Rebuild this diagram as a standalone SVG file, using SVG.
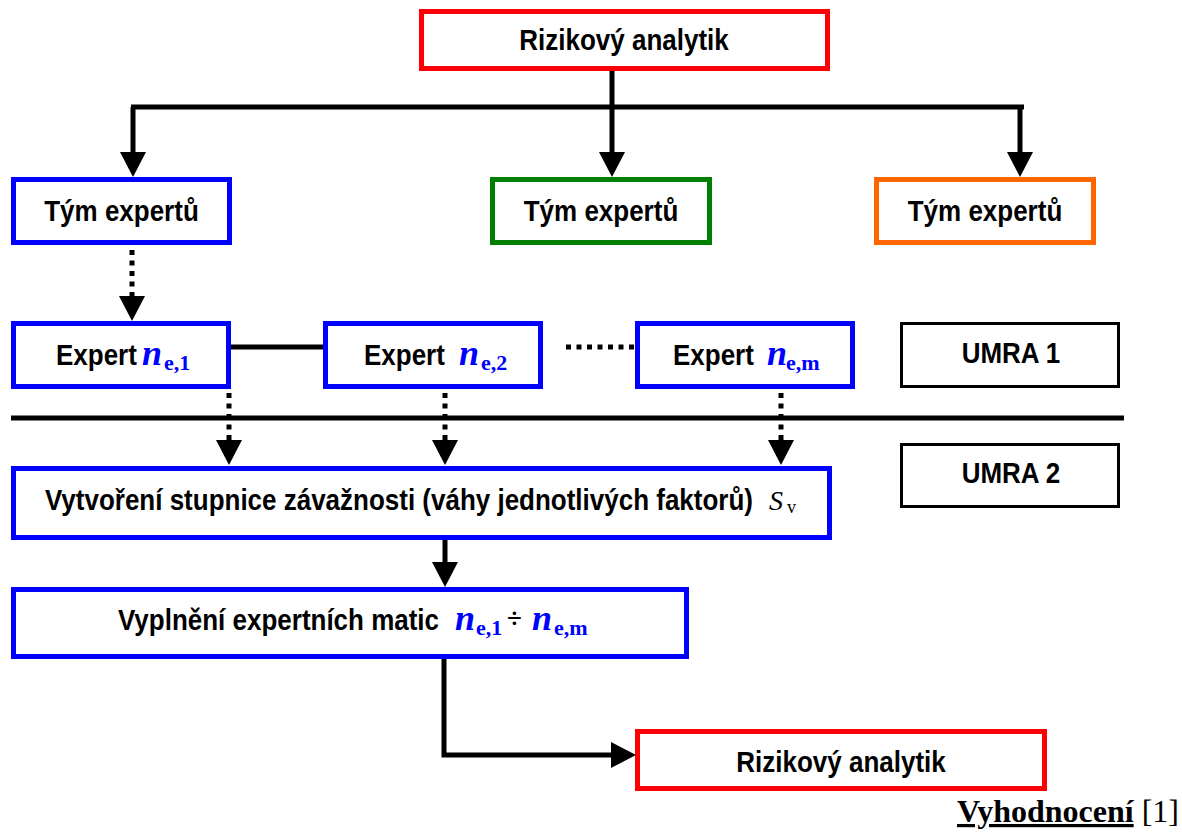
<svg xmlns="http://www.w3.org/2000/svg" width="1182" height="834" viewBox="0 0 1182 834">
<defs>
<marker id="ah" markerUnits="userSpaceOnUse" markerWidth="26" markerHeight="26" refX="0" refY="13" orient="auto">
<path d="M0,0 L25,13 L0,26 Z" fill="#000"/>
</marker>
<style>
.box{fill:#fff;stroke-width:5}
.red{stroke:#ff0000}.blue{stroke:#0000ff}.green{stroke:#008000}.orange{stroke:#ff6600}
.blk{fill:#fff;stroke:#000;stroke-width:3}
.t{font-family:"Liberation Sans",Arial,sans-serif;font-weight:bold;font-size:26px;fill:#000}
.n{font-family:"Liberation Serif","Times New Roman",serif;font-weight:bold;font-style:italic;font-size:36px;fill:#0000ff}
.sub{font-family:"Liberation Serif","Times New Roman",serif;font-weight:bold;font-size:22px;fill:#0000ff}
.ln{fill:none;stroke:#000;stroke-width:5}
.dot{fill:none;stroke:#000;stroke-width:5;stroke-dasharray:5 5.5}
</style>
</defs>
<g id="connectors">
<path class="ln" d="M612,71 V107"/>
<path class="ln" d="M131,107 H1024" stroke-width="6"/>
<path class="ln" d="M133,107 V152" stroke-width="4" marker-end="url(#ah)"/>
<path class="ln" d="M612,107 V152" stroke-width="4" marker-end="url(#ah)"/>
<path class="ln" d="M1020,107 V152" stroke-width="4" marker-end="url(#ah)"/>
<path class="dot" d="M132,250 V296" marker-end="url(#ah)"/>
<path class="ln" d="M231,347 H323"/>
<path class="dot" d="M566,347 H635"/>
<path class="dot" d="M229,393 V440" marker-end="url(#ah)"/>
<path class="dot" d="M445,393 V440" marker-end="url(#ah)"/>
<path class="dot" d="M781,393 V440" marker-end="url(#ah)"/>
<path class="ln" d="M11,418 H1124" stroke-width="4"/>
<path class="ln" d="M445,540 V562" marker-end="url(#ah)"/>
<path class="ln" d="M444,659 V755 H611" marker-end="url(#ah)"/>
</g>
<g id="analyst-top">
<rect class="box red" x="421.5" y="11.5" width="406" height="57"/>
<text class="t" text-anchor="middle" transform="translate(624,50) scale(1,1.15)">Rizikový analytik</text>
</g>
<g id="team-1">
<rect class="box blue" x="13.5" y="179.5" width="216" height="63"/>
<text class="t" text-anchor="middle" font-size="26.4" transform="translate(121.5,221) scale(1,1.15)">Tým expertů</text>
</g>
<g id="team-2">
<rect class="box green" x="492.5" y="179.5" width="217" height="63"/>
<text class="t" text-anchor="middle" font-size="26.4" transform="translate(601,221) scale(1,1.15)">Tým expertů</text>
</g>
<g id="team-3">
<rect class="box orange" x="876.5" y="179.5" width="217" height="63"/>
<text class="t" text-anchor="middle" font-size="26.4" transform="translate(985,221) scale(1,1.15)">Tým expertů</text>
</g>
<g id="expert-1">
<rect class="box blue" x="13.5" y="323.5" width="215" height="63"/>
<text class="t" font-size="25.4" transform="translate(56,365) scale(1,1.15)">Expert</text>
<text class="n" x="142" y="365">n</text>
<text class="sub" x="164" y="370">e,1</text>
</g>
<g id="expert-2">
<rect class="box blue" x="325.5" y="323.5" width="215" height="63"/>
<text class="t" font-size="25.4" transform="translate(364,365) scale(1,1.15)">Expert</text>
<text class="n" x="459" y="365">n</text>
<text class="sub" x="481" y="370">e,2</text>
</g>
<g id="expert-m">
<rect class="box blue" x="637.5" y="323.5" width="215" height="63"/>
<text class="t" font-size="25.4" transform="translate(673,365) scale(1,1.15)">Expert</text>
<text class="n" x="767" y="365">n</text>
<text class="sub" x="786" y="370">e,m</text>
</g>
<g id="umra-1">
<rect class="blk" x="901.5" y="323.5" width="217" height="63"/>
<text class="t" text-anchor="middle" font-size="25.8" transform="translate(1011,363) scale(1,1.15)">UMRA 1</text>
</g>
<g id="umra-2">
<rect class="blk" x="901.5" y="444.5" width="217" height="62"/>
<text class="t" text-anchor="middle" font-size="25.8" transform="translate(1011,483) scale(1,1.15)">UMRA 2</text>
</g>
<g id="scale-box">
<rect class="box blue" x="13.5" y="468.5" width="816" height="69"/>
<text class="t" font-size="26.3" transform="translate(45,510) scale(1,1.15)">Vytvoření stupnice závažnosti (váhy jednotlivých faktorů)</text>
<text x="769" y="510" font-family="Liberation Serif, Times New Roman, serif" font-style="italic" font-size="28" fill="#000">S</text>
<text x="787" y="513" font-family="Liberation Serif, Times New Roman, serif" font-size="18" fill="#000">v</text>
</g>
<g id="matrix-box">
<rect class="box blue" x="13.5" y="589.5" width="673" height="67"/>
<text class="t" font-size="25.3" transform="translate(118,630) scale(1,1.15)">Vyplnění expertních matic</text>
<text class="n" x="455" y="630">n</text>
<text class="sub" x="476" y="635">e,1</text>
<text x="507" y="627" font-family="Liberation Serif, Times New Roman, serif" font-weight="bold" font-size="27" fill="#000">÷</text>
<text class="n" x="532" y="630">n</text>
<text class="sub" x="554" y="635">e,m</text>
</g>
<g id="analyst-bottom">
<rect class="box red" x="637.5" y="731.5" width="407" height="57"/>
<text class="t" text-anchor="middle" transform="translate(841,772) scale(1,1.15)">Rizikový analytik</text>
</g>
<text x="957" y="822" font-family="Liberation Serif, Times New Roman, serif" font-size="32" fill="#000"><tspan font-weight="bold" text-decoration="underline">Vyhodnocení</tspan> [1]</text>
</svg>
